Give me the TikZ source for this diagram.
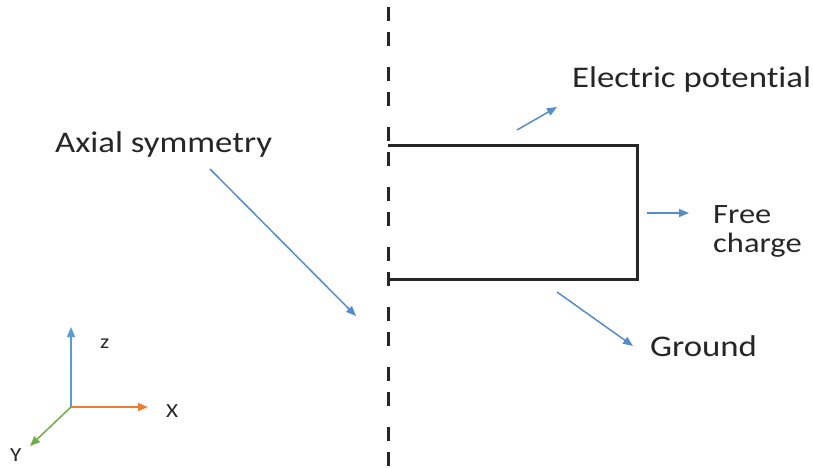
\documentclass[tikz,border=0pt]{standalone}
\usepackage{fontspec}
\setmainfont[FakeStretch=1.16, Ligatures=NoCommon]{Carlito}
\usetikzlibrary{arrows.meta}
\definecolor{callout}{RGB}{84,141,201}
\definecolor{ink}{RGB}{38,38,38}
\definecolor{axz}{RGB}{91,155,213}
\definecolor{axx}{RGB}{237,125,49}
\definecolor{axy}{RGB}{112,173,71}
\tikzset{
  label text/.style={font=\fontsize{30}{30}\selectfont, text=ink, inner sep=0pt, anchor=base west},
  axis text/.style={font=\fontsize{20}{20}\selectfont, text=ink, inner sep=0pt, anchor=base west},
  pointer/.style={draw=callout, line width=1.5pt, -{Triangle[length=10pt,width=8pt]}},
  triad/.style={line width=1.5pt, -{Triangle[length=10pt,width=8pt]}},
  body/.style={draw=ink, line width=3pt, line join=miter},
  symaxis/.style={draw=ink, line width=3pt, dash pattern=on 14pt off 11pt on 14pt off 21pt}
}
\begin{document}
\begin{tikzpicture}[x=1pt,y=-1pt]
  \useasboundingbox (0,0) rectangle (813,467);
  % axis of symmetry
  \coordinate (axtop) at (388,7);
  \coordinate (axbot) at (388,467);
  \draw[symaxis] (axtop) -- (axbot);
  % cross-section of the body (left edge lies on the axis)
  \coordinate (tl) at (388,145);
  \coordinate (tr) at (637,145);
  \coordinate (br) at (637,279);
  \coordinate (bl) at (388,279);
  \draw[body] (tl) -- (tr) -- (br) -- (bl);
  % labels
  \node[label text] (pot) at (572,87) {Electric potential};
  \node[label text] (sym) at (55,152) {Axial symmetry};
  \node[label text, font=\fontsize{28}{28}\selectfont] (free) at (713,223) {Free};
  \node[label text, font=\fontsize{28}{28}\selectfont] (charge) at (713,252) {charge};
  \node[label text] (gnd) at (650,356) {Ground};
  % pointers
  \coordinate (p1s) at (517,130); \coordinate (p1e) at (557,107);
  \coordinate (p2s) at (647,213); \coordinate (p2e) at (689,213);
  \coordinate (p3s) at (557,292); \coordinate (p3e) at (633,346);
  \coordinate (p4s) at (210,169); \coordinate (p4e) at (356,316);
  \draw[pointer] (p1s) -- (p1e);
  \draw[pointer] (p2s) -- (p2e);
  \draw[pointer] (p3s) -- (p3e);
  \draw[pointer] (p4s) -- (p4e);
  % coordinate triad
  \coordinate (o) at (71,407);
  \coordinate (ez) at (71,327);
  \coordinate (ex) at (148,407);
  \coordinate (ey) at (30,446);
  \draw[triad, draw=axz, fill=axz] (o) -- (ez);
  \draw[triad, draw=axx, fill=axx] (o) -- (ex);
  \draw[triad, draw=axy, fill=axy] (o) -- (ey);
  \node[axis text] (lz) at (100,348) {z};
  \node[axis text] (lx) at (166,417) {X};
  \node[axis text] (ly) at (10,461) {Y};
\end{tikzpicture}
\end{document}
